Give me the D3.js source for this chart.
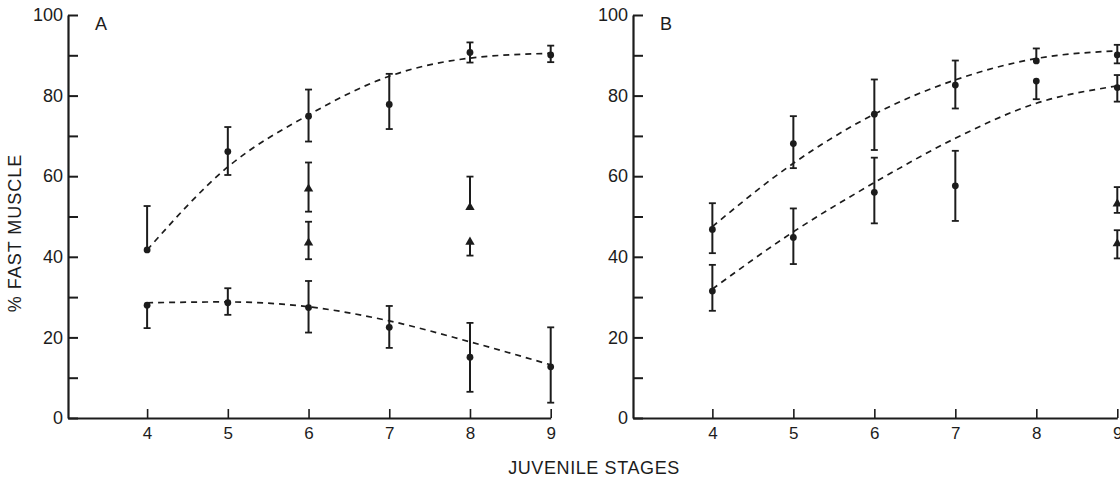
<!DOCTYPE html>
<html>
<head>
<meta charset="utf-8">
<script src="https://cdn.jsdelivr.net/npm/d3@7"></script>
<style>
  body { margin: 0; background: #fff; }
  text { font-family: "Liberation Sans", Arial, sans-serif; fill: #1c1c1c; }
</style>
</head>
<body>
<div id="chart-area"></div>
<script>
// juvenile stages on the x axis
var stages = [4, 5, 6, 7, 8, 9];
var yTicks = [0, 10, 20, 30, 40, 50, 60, 70, 80, 90, 100];

// panel A, upper circles
var aUpMean = [41.7, 66.1, 74.9, 77.8, 90.7, 90.1];
var aUpHi   = [52.6, 72.2, 81.5, 85.4, 93.2, 92.4];
var aUpLo   = [41.7, 60.3, 68.6, 71.7, 88.2, 88.3];
var aUpFit  = [41.7, 62.3, 75.2, 84.8, 89.3, 90.5];
// panel A, lower circles
var aLowMean = [28.0, 28.6, 27.4, 22.5, 15.1, 12.7];
var aLowHi   = [28.0, 32.2, 34.0, 27.8, 23.6, 22.5];
var aLowLo   = [22.3, 25.6, 21.2, 17.4, 6.5, 3.8];
var aLowFit  = [28.6, 28.8, 27.6, 24.1, 18.9, 13.2];
// panel A, triangles
var aTriStage = [6, 6, 8, 8];
var aTriMean  = [57.0, 43.6, 52.4, 43.8];
var aTriHi    = [63.4, 48.7, 59.9, 43.8];
var aTriLo    = [51.2, 39.4, 52.4, 40.3];

// panel B, upper circles
var bUpMean = [46.8, 68.1, 75.4, 82.6, 88.6, 90.1];
var bUpHi   = [53.3, 74.9, 84.0, 88.7, 91.7, 92.6];
var bUpLo   = [40.9, 62.0, 66.5, 76.8, 88.6, 88.0];
var bUpFit  = [47.5, 63.2, 75.4, 83.9, 89.2, 91.1];
// panel B, lower circles
var bLowMean = [31.5, 44.8, 56.0, 57.6, 83.6, 82.0];
var bLowHi   = [38.0, 52.0, 64.6, 66.3, 83.6, 85.1];
var bLowLo   = [26.6, 38.2, 48.3, 48.9, 79.1, 78.5];
var bLowFit  = [32.0, 46.2, 58.4, 69.4, 78.1, 82.4];
// panel B, triangles
var bTriStage = [9, 9];
var bTriMean  = [53.3, 43.4];
var bTriHi    = [57.3, 46.6];
var bTriLo    = [50.9, 39.6];

var width = 1120, height = 479;
var ink = "#1c1c1c";

var svg = d3.select("#chart-area").append("svg").attr("width", width).attr("height", height);

var y = d3.scaleLinear().domain([0, 100]).range([418, 15]);

function rows(st, mean, hi, lo) {
  return st.map((s, i) => { return {s: s, m: mean[i], hi: hi[i], lo: lo[i]}; });
}

function drawPanel(left, right, letter, circleSets, fits, tri) {
  var x = d3.scaleLinear().domain([3.02, 9]).range([left, right]);
  var g = svg.append("g");

  var leftAxis = d3.axisLeft(y).tickValues(yTicks).tickSize(-10).tickSizeOuter(0).tickPadding(5)
    .tickFormat((d) => { return d % 20 === 0 ? d : ""; });
  var ya = g.append("g").attr("transform", "translate(" + left + ",0)").call(leftAxis);
  ya.select(".domain").attr("stroke", ink).attr("stroke-width", 2.2);
  ya.selectAll("line").attr("stroke", ink).attr("stroke-width", 2);
  ya.selectAll("text").attr("font-size", "18px").style("fill", ink);

  var bottomAxis = d3.axisBottom(x).tickValues(stages).tickSize(-9).tickSizeOuter(0).tickPadding(9)
    .tickFormat(d3.format("d"));
  var xa = g.append("g").attr("transform", "translate(0,418)").call(bottomAxis);
  xa.select(".domain").attr("stroke", ink).attr("stroke-width", 2);
  xa.selectAll("line").attr("stroke", ink).attr("stroke-width", 1.6);
  xa.selectAll("text").attr("font-size", "17px").style("fill", ink);

  g.append("text").attr("x", left + 27).attr("y", 30).attr("font-size", "18px").text(letter);

  var line = d3.line().x((d, i) => { return x(stages[i]); }).y((d) => { return y(d); }).curve(d3.curveMonotoneX);
  fits.forEach((f) => {
    g.append("path").datum(f).attr("d", line).attr("fill", "none").attr("stroke", ink)
      .attr("stroke-width", 1.7).attr("stroke-dasharray", "6,5");
  });

  function bars(data, cls) {
    var eb = g.selectAll("g." + cls).data(data).enter().append("g").attr("class", cls);
    eb.filter((d) => { return d.hi > d.lo; }).append("line")
      .attr("x1", (d) => { return x(d.s); }).attr("x2", (d) => { return x(d.s); })
      .attr("y1", (d) => { return y(d.hi); }).attr("y2", (d) => { return y(d.lo); })
      .attr("stroke", ink).attr("stroke-width", 2);
    eb.filter((d) => { return d.hi > d.m; }).append("line")
      .attr("x1", (d) => { return x(d.s) - 3.5; }).attr("x2", (d) => { return x(d.s) + 3.5; })
      .attr("y1", (d) => { return y(d.hi); }).attr("y2", (d) => { return y(d.hi); })
      .attr("stroke", ink).attr("stroke-width", 1.8);
    eb.filter((d) => { return d.lo < d.m; }).append("line")
      .attr("x1", (d) => { return x(d.s) - 3.5; }).attr("x2", (d) => { return x(d.s) + 3.5; })
      .attr("y1", (d) => { return y(d.lo); }).attr("y2", (d) => { return y(d.lo); })
      .attr("stroke", ink).attr("stroke-width", 1.8);
    return eb;
  }

  circleSets.forEach((cs, k) => {
    var eb = bars(cs, "c" + letter + k);
    eb.append("circle").attr("cx", (d) => { return x(d.s); }).attr("cy", (d) => { return y(d.m); })
      .attr("r", 3.4).attr("fill", ink);
  });

  var tb = bars(tri, "t" + letter);
  tb.append("path").attr("d", d3.symbol().type(d3.symbolTriangle).size(38))
    .attr("transform", (d) => { return "translate(" + x(d.s) + "," + (y(d.m) + 0.5) + ")"; })
    .attr("fill", ink);
}

drawPanel(68, 550.7, "A",
  [rows(stages, aUpMean, aUpHi, aUpLo), rows(stages, aLowMean, aLowHi, aLowLo)],
  [aUpFit, aLowFit],
  rows(aTriStage, aTriMean, aTriHi, aTriLo));

drawPanel(633, 1117.3, "B",
  [rows(stages, bUpMean, bUpHi, bUpLo), rows(stages, bLowMean, bLowHi, bLowLo)],
  [bUpFit, bLowFit],
  rows(bTriStage, bTriMean, bTriHi, bTriLo));

svg.append("text").attr("x", 594).attr("y", 474).attr("text-anchor", "middle")
  .attr("font-size", "18px").attr("letter-spacing", "0.6px").text("JUVENILE STAGES");

svg.append("text").attr("transform", "translate(21,233) rotate(-90)").attr("text-anchor", "middle")
  .attr("font-size", "18px").attr("letter-spacing", "1px").text("% FAST MUSCLE");
</script>
</body>
</html>
